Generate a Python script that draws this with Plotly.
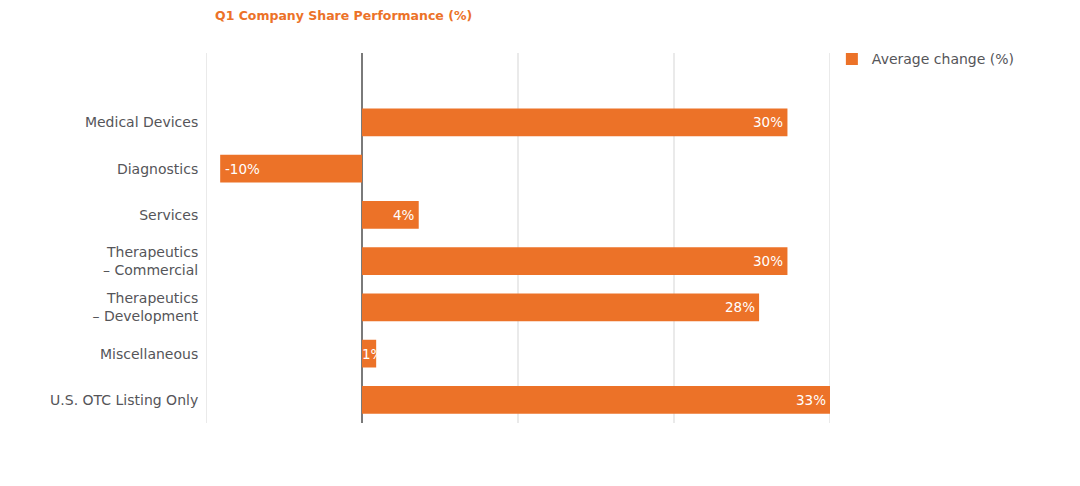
import plotly.graph_objects as go

# chart data
categories = [
    'Medical Devices',
    'Diagnostics',
    'Services',
    'Therapeutics<br>– Commercial',
    'Therapeutics<br>– Development',
    'Miscellaneous',
    'U.S. OTC Listing Only',
]
avg_change = [30, -10, 4, 30, 28, 1, 33]
bar_labels = ['30%', '-10%', '4%', '30%', '28%', '1%', '33%']
grid_values = [-11, 0, 11, 22, 33]

ORANGE = '#EC7228'
GREY_TEXT = '#555559'
FONT = 'DejaVu Sans, sans-serif'

# page body has an 8px margin, so the figure is drawn 8px smaller
W, H = 1072, 478

fig = go.Figure()

fig.add_trace(go.Bar(
    x=avg_change,
    y=categories,
    orientation='h',
    name='Average change (%)',
    marker=dict(color=ORANGE, line=dict(width=0)),
    width=0.6,
    hoverinfo='x+y',
))

# value labels sitting inside the end of each bar
for cat, val, lab in zip(categories, avg_change, bar_labels):
    if abs(val) < 3:
        x, anchor, shift = 0, 'left', -2
    elif val > 0:
        x, anchor, shift = val, 'right', -2
    else:
        x, anchor, shift = val, 'left', 3
    fig.add_annotation(
        x=x, y=cat, text=lab, showarrow=False,
        xanchor=anchor, xshift=shift,
        font=dict(family=FONT, size=13.5, color='white'),
    )

# light vertical gridlines (edge ones included)
for g in grid_values:
    if g == 0:
        continue
    fig.add_shape(
        type='line', xref='x', yref='paper',
        x0=g, x1=g, y0=0, y1=1,
        line=dict(color='#E3E3E3', width=1.5),
        layer='below',
    )

fig.update_layout(
    width=W,
    height=H,
    margin=dict(l=198, r=W - 198 - 624, t=45, b=H - 45 - 370, autoexpand=False),
    paper_bgcolor='white',
    plot_bgcolor='white',
    font=dict(family=FONT, color=GREY_TEXT, size=14),
    showlegend=True,
    title=dict(
        text='<b>Q1 Company Share Performance (%)</b>',
        x=207 / W, xanchor='left', xref='container',
        y=1 - 8 / H, yanchor='middle', yref='container',
        font=dict(family=FONT, size=12.5, color=ORANGE),
    ),
    legend=dict(
        x=1.003, xanchor='left', y=1.026, yanchor='top',
        font=dict(family=FONT, size=14, color=GREY_TEXT),
        itemwidth=30,
        bgcolor='rgba(0,0,0,0)',
    ),
)

fig.update_xaxes(
    range=[-11, 33],
    showticklabels=False,
    showgrid=False,
    zeroline=True,
    zerolinecolor='#7A7A7A',
    zerolinewidth=1.5,
    showline=False,
    automargin=False,
    fixedrange=True,
)

fig.update_yaxes(
    categoryorder='array',
    categoryarray=categories,
    range=[6.5, -1.5],
    showgrid=False,
    ticks='outside',
    ticklen=4,
    tickcolor='rgba(0,0,0,0)',
    tickfont=dict(family=FONT, size=14, color=GREY_TEXT),
    showline=False,
    automargin=False,
    fixedrange=True,
)

fig.write_html('out.html')
